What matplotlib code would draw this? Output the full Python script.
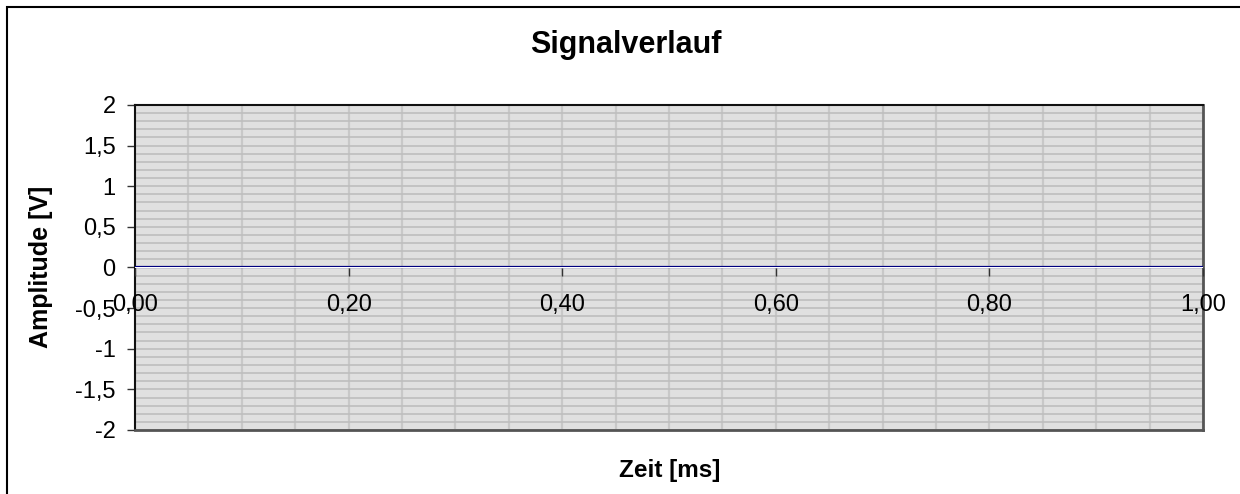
import matplotlib
matplotlib.use("Agg")
import matplotlib.pyplot as plt
from matplotlib.ticker import MultipleLocator, FixedLocator, FuncFormatter
from matplotlib.patches import Rectangle

plt.rcParams['font.family'] = ['Liberation Sans', 'DejaVu Sans']

# Data
time_ms = [0.0, 0.2, 0.4, 0.6, 0.8, 1.0]
amplitude_v = [0.0, 0.0, 0.0, 0.0, 0.0, 0.0]
x_ticks = [0.0, 0.2, 0.4, 0.6, 0.8, 1.0]
y_ticks = [-2, -1.5, -1, -0.5, 0, 0.5, 1, 1.5, 2]

title = "Signalverlauf"
xlabel = "Zeit [ms]"
ylabel = "Amplitude [V]"

fig = plt.figure(figsize=(12.4, 4.94), dpi=100)
W, H = 1240, 494
left, right, top, bottom = 135, 1203, 105, 430
ax = fig.add_axes([left / W, 1 - bottom / H, (right - left) / W, (bottom - top) / H])

ax.set_facecolor('#e0e0e0')
ax.plot(time_ms, amplitude_v, color='#000080', lw=1.6, zorder=3)
ax.set_xlim(0, 1)
ax.set_ylim(-2, 2)

# grid
ax.xaxis.set_major_locator(MultipleLocator(0.05))
ax.yaxis.set_major_locator(FixedLocator(y_ticks))
ax.yaxis.set_minor_locator(MultipleLocator(0.1))
ax.grid(True, which='major', axis='x', color='#c8c8c8', lw=1.6)
ax.grid(True, which='both', axis='y', color='#bebebe', lw=1.2)
ax.set_axisbelow(True)
ax.tick_params(axis='x', which='both', length=0, labelbottom=False)
ax.tick_params(axis='y', which='minor', length=0)
ax.tick_params(axis='y', which='major', length=6, width=1, color='#333333',
               labelsize=17, pad=8)

def yfmt(v, pos):
    return ('%g' % v).replace('.', ',')
ax.yaxis.set_major_formatter(FuncFormatter(yfmt))

# spines
ax.spines['top'].set_color('#111111'); ax.spines['top'].set_linewidth(1.5)
ax.spines['left'].set_color('#111111'); ax.spines['left'].set_linewidth(1.5)
ax.spines['right'].set_color('#555555'); ax.spines['right'].set_linewidth(2)
ax.spines['bottom'].set_color('#555555'); ax.spines['bottom'].set_linewidth(2)

# x-axis crossing at y=0
sec = ax.secondary_xaxis(0.5)
sec.set_zorder(10)
for s in sec.spines.values():
    s.set_visible(False)
sec.set_xticks(x_ticks)
sec.xaxis.set_ticks_position('bottom')
sec.xaxis.set_major_formatter(FuncFormatter(lambda v, p: ('%.2f' % v).replace('.', ',')))
sec.tick_params(axis='x', bottom=True, labelbottom=True, top=False, labeltop=False,
                length=6, width=1, color='#333333', labelsize=17, pad=13)

fig.text(626 / W, 1 - 53 / H, title, ha='center', va='baseline', fontsize=22, fontweight='bold')
fig.text(670 / W, 1 - 477 / H, xlabel, ha='center', va='baseline', fontsize=17.5, fontweight='bold')
fig.text(41 / W, 1 - 267 / H, ylabel, ha='center', va='center', fontsize=18,
         fontweight='bold', rotation=90)

# outer chart border
fig.patches.append(Rectangle((7 / W, -0.1), 1.2, 1 - 7 / H + 0.1, transform=fig.transFigure,
                             fill=False, ec='black', lw=1.5))

fig.savefig('out.png', dpi=100)
